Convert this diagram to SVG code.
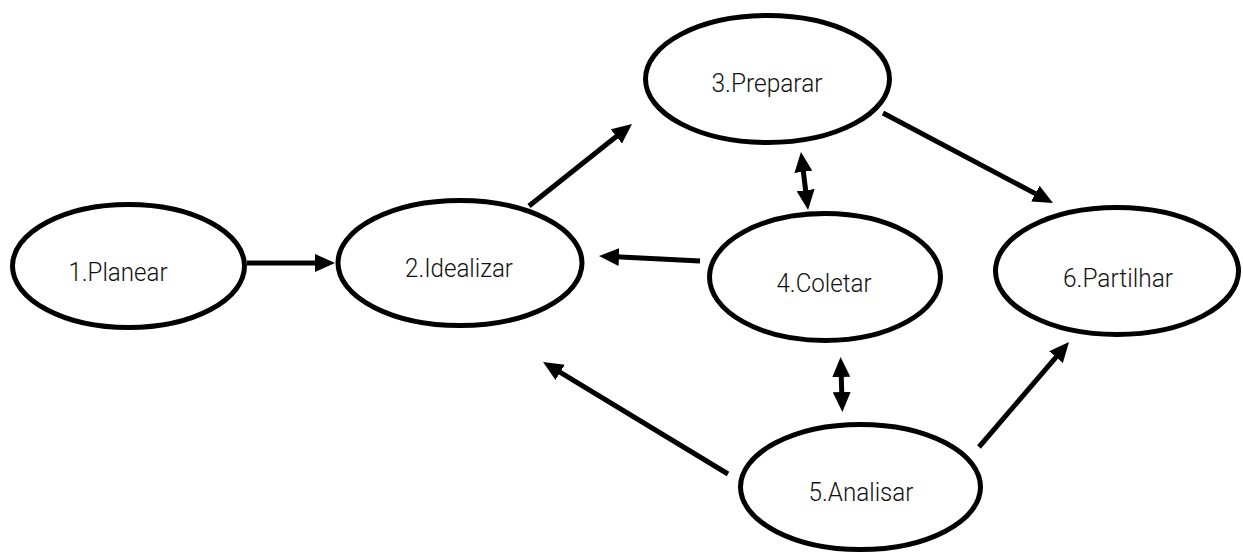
<svg xmlns="http://www.w3.org/2000/svg" width="1243" height="554" viewBox="0 0 1243 554">
  <style>
    .node ellipse { fill: #ffffff; stroke: #000000; stroke-width: 5; }
    .node text { font-family: "Roboto", "Liberation Sans", sans-serif; font-weight: 300; font-size: 26px; fill: #111111; text-anchor: middle; }
    .edge { stroke: #000000; stroke-width: 5; fill: none; }
  </style>
  <defs>
    <marker id="arrow" markerUnits="userSpaceOnUse" viewBox="0 0 20 18" markerWidth="20" markerHeight="18" refX="8" refY="9" orient="auto-start-reverse">
      <path d="M0,0 L20,9 L0,18 z" fill="#000000"/>
    </marker>
  </defs>
  <rect width="1243" height="554" fill="#ffffff"/>

  <g id="connectors">
    <line class="edge" x1="247" y1="263" x2="323" y2="263" marker-end="url(#arrow)"/>
    <line class="edge" x1="529" y1="206" x2="622.6" y2="131.5" marker-end="url(#arrow)"/>
    <line class="edge" x1="883" y1="113" x2="1042.4" y2="197.4" marker-end="url(#arrow)"/>
    <line class="edge" x1="700" y1="261" x2="611" y2="256.6" marker-end="url(#arrow)"/>
    <line class="edge" x1="802.4" y1="163.9" x2="806.6" y2="198.1" marker-start="url(#arrow)" marker-end="url(#arrow)"/>
    <line class="edge" x1="841" y1="369" x2="842" y2="400" marker-start="url(#arrow)" marker-end="url(#arrow)"/>
    <line class="edge" x1="728" y1="474" x2="553.3" y2="368.2" marker-end="url(#arrow)"/>
    <line class="edge" x1="979" y1="447" x2="1061.2" y2="351.1" marker-end="url(#arrow)"/>
  </g>

  <g id="n1" class="node">
    <ellipse cx="128.5" cy="266" rx="116" ry="61.5"/>
    <text x="118" y="281" textLength="99" lengthAdjust="spacingAndGlyphs">1.Planear</text>
  </g>
  <g id="n2" class="node">
    <ellipse cx="460" cy="263" rx="122" ry="62.5"/>
    <text x="459" y="277" textLength="108" lengthAdjust="spacingAndGlyphs">2.Idealizar</text>
  </g>
  <g id="n3" class="node">
    <ellipse cx="767.5" cy="79" rx="122" ry="63.5"/>
    <text x="767" y="92" textLength="111" lengthAdjust="spacingAndGlyphs">3.Preparar</text>
  </g>
  <g id="n4" class="node">
    <ellipse cx="825" cy="277" rx="115.5" ry="63.5"/>
    <text x="824" y="292" textLength="95" lengthAdjust="spacingAndGlyphs">4.Coletar</text>
  </g>
  <g id="n5" class="node">
    <ellipse cx="860.5" cy="487" rx="120" ry="62.5"/>
    <text x="861" y="501" textLength="105" lengthAdjust="spacingAndGlyphs">5.Analisar</text>
  </g>
  <g id="n6" class="node">
    <ellipse cx="1117" cy="271" rx="121.5" ry="63.5"/>
    <text x="1118" y="287" textLength="110" lengthAdjust="spacingAndGlyphs">6.Partilhar</text>
  </g>
</svg>
